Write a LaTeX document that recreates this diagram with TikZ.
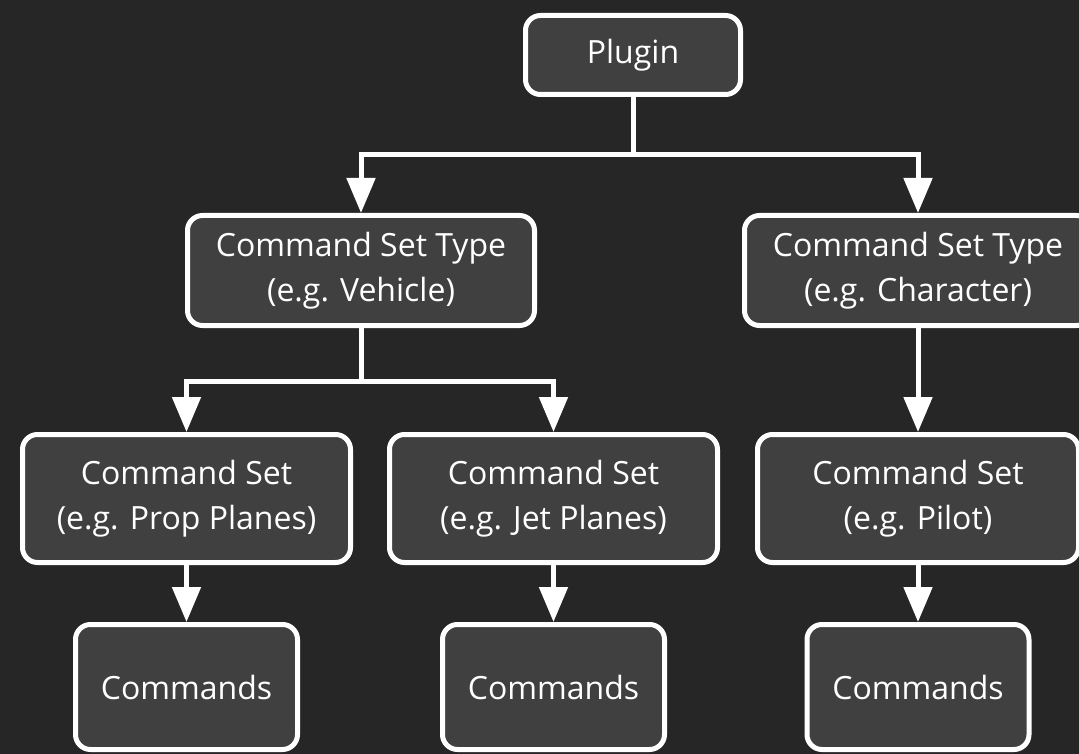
\documentclass[tikz,border=0pt]{standalone}
\usepackage{fontspec}
\setmainfont{Open Sans}
\usetikzlibrary{arrows.meta}

\definecolor{bgdark}{HTML}{262626}
\definecolor{boxgray}{HTML}{404040}

\begin{document}
\begin{tikzpicture}[x=1pt,y=-1pt,
    box/.style={draw=white,fill=boxgray,line width=5pt,rounded corners=15pt,
        text=white,align=center,inner sep=0pt,
        font=\fontsize{32}{45}\selectfont},
    bar/.style={draw=white,line width=5pt},
    conn/.style={bar,-{Triangle[width=28pt,length=35pt]}}]
    % background, same size as the page
    \fill[bgdark] (0,0) rectangle (1079,754);
    \clip (0,0) rectangle (1079,754);

    % top level
    \node[box,minimum width=215pt,minimum height=79pt] (plugin) at (633,55) {Plugin};

    % command set types
    \node[box,minimum width=347pt,minimum height=110pt] (vehicle) at (361,270.5) {Command Set Type\\(e.g. Vehicle)};
    \node[box,minimum width=347pt,minimum height=110pt] (character) at (918,270.5) {Command Set Type\\(e.g. Character)};

    % command sets
    \node[box,minimum width=328pt,minimum height=128pt] (prop) at (186.5,498.5) {Command Set\\(e.g. Prop Planes)};
    \node[box,minimum width=328pt,minimum height=128pt] (jet) at (553.5,498.5) {Command Set\\(e.g. Jet Planes)};
    \node[box,minimum width=321pt,minimum height=128pt] (pilot) at (918,498.5) {Command Set\\(e.g. Pilot)};

    % commands
    \node[box,minimum width=222pt,minimum height=125pt] (cmdprop) at (186.5,687) {Commands};
    \node[box,minimum width=222pt,minimum height=125pt] (cmdjet) at (553.5,687) {Commands};
    \node[box,minimum width=222pt,minimum height=125pt] (cmdpilot) at (918,687) {Commands};

    % forks
    \coordinate (forkplugin) at (633,155);
    \coordinate (forkvehicle) at (361,381);

    \draw[bar] (plugin) -- (forkplugin);
    \draw[conn] (forkplugin) -| (vehicle);
    \draw[conn] (forkplugin) -| (character);

    \draw[bar] (vehicle) -- (forkvehicle);
    \draw[conn] (forkvehicle) -| (prop);
    \draw[conn] (forkvehicle) -| (jet);
    \draw[conn] (character) -- (pilot);

    \draw[conn] (prop) -- (cmdprop);
    \draw[conn] (jet) -- (cmdjet);
    \draw[conn] (pilot) -- (cmdpilot);
\end{tikzpicture}
\end{document}
